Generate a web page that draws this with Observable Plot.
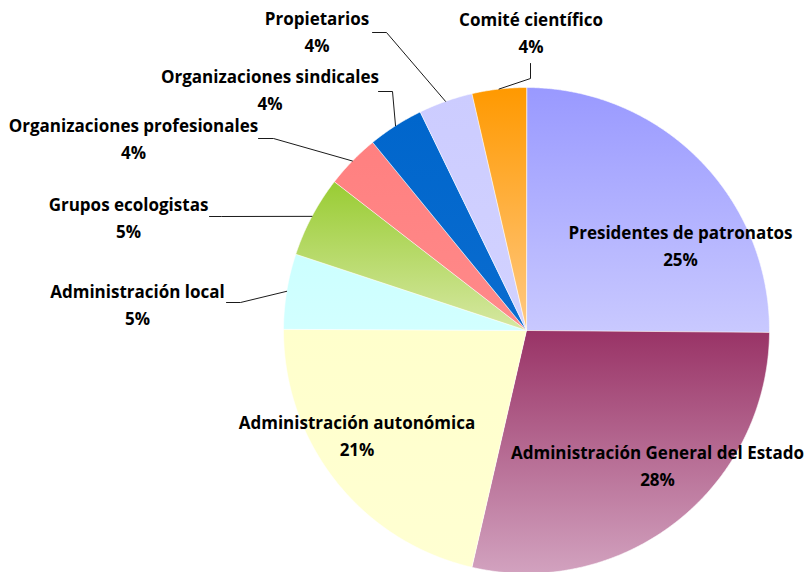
<!DOCTYPE html>
<html><head><meta charset="utf-8">
<script src="https://cdn.jsdelivr.net/npm/d3@7"></script>
<script src="https://cdn.jsdelivr.net/npm/@observablehq/plot@0.6"></script>
<style>body{margin:0;background:#fff}</style>
</head><body><div id="chart"></div>
<script>
const categories = [
  "Presidentes de patronatos",
  "Administración General del Estado",
  "Administración autonómica",
  "Administración local",
  "Grupos ecologistas",
  "Organizaciones profesionales",
  "Organizaciones sindicales",
  "Propietarios",
  "Comité científico"
];
const values = [25.1, 28.45, 21.45, 5.0, 5.4, 3.6, 3.7, 3.6, 3.6];
const colorsTop    = ["#9999ff", "#993366", "#ffffcc", "#ccffff", "#99cc33", "#ff8080", "#0066cc", "#ccccff", "#ff9900"];
const colorsBottom = ["#c9c9ff", "#d2a2bf", "#ffffd2", "#d2ffff", "#d6e8a2", "#ff8a8a", "#0a6ccf", "#d2d2ff", "#ffc983"];

// layout (pixels relative to pie centre, y up): label block centres and leader-line elbows
const labelPos = [[154, 87], [131, -133], [-169.5, -103], [-389, 28], [-398, 114.5], [-393, 193.5], [-256.5, 242.5], [-209.5, 300.5], [4.5, 300]];
const leaderElbows = [null, null, null,
  [[-300, 28], [-286, 28]],
  [[-317, 114], [-305, 114]],
  [[-268, 192], [-253, 192]],
  [[-148, 239], [-134, 239]],
  [[-154, 298], [-140, 298]],
  [[4, 267], [4, 252]]
];

const R = 243;
const total = d3.sum(values);
const arcs = d3.pie().sort(null)(values);

const marks = [];
arcs.forEach((a, i) => {
  const pts = [{x: 0, y: 0}];
  const n = Math.max(8, Math.ceil((a.endAngle - a.startAngle) / 0.004));
  for (let k = 0; k <= n; k++) {
    const t = a.startAngle + (a.endAngle - a.startAngle) * k / n;
    pts.push({x: R * Math.sin(t), y: R * Math.cos(t)});
  }
  marks.push(Plot.line(pts, {x: "x", y: "y", fill: `url(#grad${i})`, stroke: "white", strokeWidth: 0.6, curve: "linear-closed"}));
});

const leaders = [];
arcs.forEach((a, i) => {
  const e = leaderElbows[i];
  if (!e) return;
  const m = (a.startAngle + a.endAngle) / 2;
  leaders.push({i, x: e[0][0], y: e[0][1]});
  leaders.push({i, x: e[1][0], y: e[1][1]});
  leaders.push({i, x: R * Math.sin(m), y: R * Math.cos(m)});
});
marks.push(Plot.line(leaders, {x: "x", y: "y", z: "i", stroke: "#000", strokeWidth: 0.9}));

const labels = categories.map((c, i) => ({
  text: c + "\n" + Math.round(values[i] / total * 100) + "%",
  x: labelPos[i][0], y: labelPos[i][1]
}));
marks.push(Plot.text(labels, {x: "x", y: "y", text: "text", fontSize: 17, fontWeight: "bold", lineHeight: 1.59, fill: "#000"}));

const svg = Plot.plot({
  width: 805, height: 572, margin: 0,
  x: {domain: [-526, 279], range: [0, 805], axis: null},
  y: {domain: [-242, 330], range: [572, 0], axis: null},
  style: {fontFamily: "'Open Sans', sans-serif", background: "#fff"},
  marks
});
const defs = d3.create("svg:defs");
colorsTop.forEach((c, i) => {
  const g = defs.append("linearGradient").attr("id", "grad" + i)
    .attr("x1", 0).attr("y1", 0).attr("x2", 0).attr("y2", 1);
  g.append("stop").attr("offset", 0).attr("stop-color", c);
  g.append("stop").attr("offset", 1).attr("stop-color", colorsBottom[i]);
});
svg.prepend(defs.node());
document.getElementById("chart").appendChild(svg);
</script>
</body></html>
